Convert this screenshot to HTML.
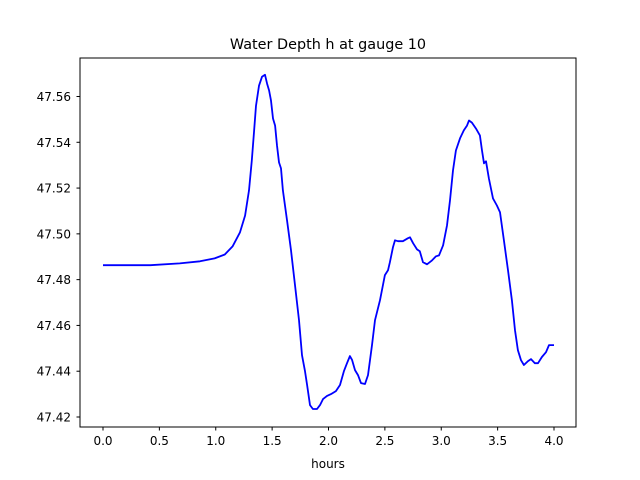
<!DOCTYPE html>
<html><head><meta charset="utf-8"><style>
html,body{margin:0;padding:0;background:#fff;}
svg{display:block;font-family:"DejaVu Sans","Liberation Sans",sans-serif;}
</style></head><body>
<svg id="chart" width="640" height="480">
<rect width="640" height="480" fill="#fff"/>
<text x="328" y="49" font-size="14.4" text-anchor="middle">Water Depth h at gauge 10</text>
<g id="ticks"></g>
<path id="line" fill="none" stroke="#0000ff" stroke-width="1.8" stroke-linejoin="round"/>
<rect x="80" y="58" width="496" height="369" fill="none" stroke="#000" stroke-width="1"/>
<text x="328" y="468" font-size="12" text-anchor="middle">hours</text>
</svg>
<script>
const hours=[0,0.42,0.68,0.86,0.99,1.08,1.15,1.215,1.26,1.295,1.32,1.34,1.357,1.384,1.41,1.437,1.455,1.473,1.49,1.508,1.526,1.543,1.561,1.579,1.596,1.632,1.667,1.703,1.738,1.765,1.792,1.81,1.836,1.862,1.898,1.925,1.951,1.987,2.022,2.066,2.102,2.137,2.164,2.19,2.208,2.235,2.262,2.288,2.324,2.35,2.386,2.412,2.457,2.5,2.528,2.545,2.572,2.59,2.616,2.66,2.705,2.723,2.75,2.785,2.81,2.838,2.874,2.918,2.953,2.98,3.016,3.051,3.078,3.104,3.13,3.166,3.2,3.228,3.246,3.272,3.308,3.343,3.361,3.379,3.397,3.423,3.459,3.494,3.521,3.556,3.592,3.627,3.654,3.68,3.707,3.733,3.769,3.796,3.831,3.858,3.893,3.929,3.956,4.0];
const depth=[47.4863,47.4863,47.4871,47.488,47.4893,47.491,47.4946,47.5007,47.508,47.519,47.532,47.545,47.556,47.5647,47.5686,47.5695,47.5656,47.5626,47.5582,47.5504,47.5473,47.5386,47.5312,47.5286,47.519,47.506,47.4928,47.4776,47.4623,47.447,47.44,47.434,47.4252,47.4235,47.4235,47.4252,47.4278,47.4292,47.43,47.4313,47.434,47.44,47.4435,47.4466,47.445,47.4405,47.4383,47.4348,47.4344,47.4383,47.4514,47.4623,47.471,47.482,47.4841,47.4876,47.4942,47.4972,47.4968,47.4968,47.4981,47.4985,47.4959,47.4932,47.4924,47.4876,47.4867,47.4884,47.4902,47.4906,47.495,47.5037,47.5146,47.5277,47.5364,47.5417,47.5452,47.5473,47.5495,47.5486,47.546,47.543,47.5364,47.5308,47.5317,47.5242,47.5155,47.5124,47.5094,47.4972,47.4841,47.471,47.4579,47.4492,47.4448,47.4427,47.4444,47.4453,47.4435,47.4435,47.4462,47.4483,47.4514,47.4514];
const xTicks=[0,0.5,1,1.5,2,2.5,3,3.5,4];
const xTickLabels=["0.0","0.5","1.0","1.5","2.0","2.5","3.0","3.5","4.0"];
const yTicks=[47.42,47.44,47.46,47.48,47.50,47.52,47.54,47.56];
const yTickLabels=["47.42","47.44","47.46","47.48","47.50","47.52","47.54","47.56"];

const xs=v=>103+(v-0)*(554-103)/4;
const ys=v=>417-(v-47.42)*(417-96.5)/0.14;
const NS="http://www.w3.org/2000/svg";
const tg=document.getElementById('ticks');
xTicks.forEach((v,i)=>{
  const l=document.createElementNS(NS,'line');
  l.setAttribute('x1',xs(v));l.setAttribute('x2',xs(v));l.setAttribute('y1',427);l.setAttribute('y2',430.5);l.setAttribute('stroke','#000');
  
  
  tg.appendChild(l);
  const t=document.createElementNS(NS,'text');
  t.setAttribute('x',xs(v));t.setAttribute('y',445);t.setAttribute('font-size','12');t.setAttribute('text-anchor','middle');
  t.textContent=xTickLabels[i];
  
  
  tg.appendChild(t);
});
yTicks.forEach((v,i)=>{
  const l=document.createElementNS(NS,'line');
  l.setAttribute('x1',76.5);l.setAttribute('x2',80);l.setAttribute('y1',ys(v));l.setAttribute('y2',ys(v));l.setAttribute('stroke','#000');
  
  
  tg.appendChild(l);
  const t=document.createElementNS(NS,'text');
  t.setAttribute('x',71);t.setAttribute('y',ys(v)+4.5);t.setAttribute('font-size','12');t.setAttribute('text-anchor','end');
  t.textContent=yTickLabels[i];
  
  
  tg.appendChild(t);
});
document.getElementById('line').setAttribute('d',hours.map((h,i)=>(i?'L':'M')+xs(h).toFixed(1)+' '+ys(depth[i]).toFixed(1)).join(' '));
</script>
</body></html>
